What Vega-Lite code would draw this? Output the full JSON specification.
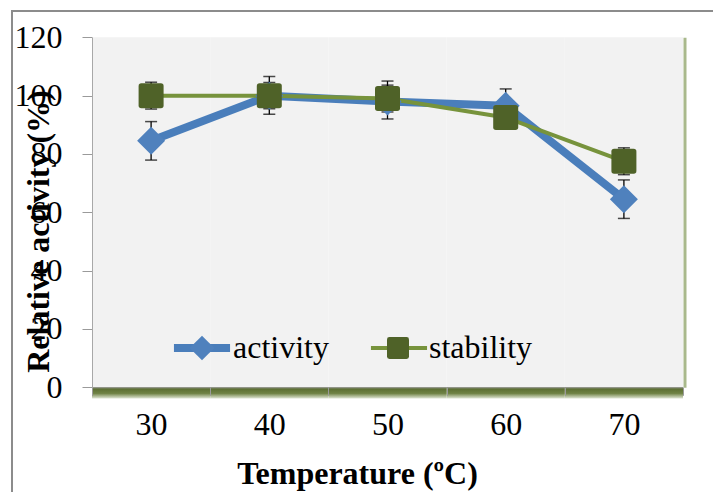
{
  "$schema": "https://vega.github.io/schema/vega-lite/v6.json",
  "width": 701,
  "height": 481,
  "autosize": {"type": "none"},
  "padding": {"left": 12, "top": 11, "right": 1, "bottom": 1},
  "background": "white",
  "config": {
    "font": "Liberation Serif",
    "view": {"stroke": "#8C8C8C", "strokeWidth": 2, "strokeDash": [701, 1182, 481]},
    "axis": {"grid": false, "labelFont": "Liberation Serif", "titleFont": "Liberation Serif", "labelColor": "black", "titleColor": "black"},
    "legend": {"labelFont": "Liberation Serif", "labelColor": "black"}
  },
  "data": {
    "values": [
      {"temp": 30, "series": "activity", "value": 84.5, "lo": 77.9, "hi": 91.1},
      {"temp": 40, "series": "activity", "value": 100, "lo": 93.6, "hi": 106.6},
      {"temp": 50, "series": "activity", "value": 98, "lo": 92, "hi": 105},
      {"temp": 60, "series": "activity", "value": 96.5, "lo": 90.5, "hi": 102.3},
      {"temp": 70, "series": "activity", "value": 64.5, "lo": 57.9, "hi": 71.1},
      {"temp": 30, "series": "stability", "value": 100, "lo": 95.4, "hi": 104.6},
      {"temp": 40, "series": "stability", "value": 100, "lo": 95.5, "hi": 104.5},
      {"temp": 50, "series": "stability", "value": 99, "lo": 94.4, "hi": 103.6},
      {"temp": 60, "series": "stability", "value": 92.5, "lo": 89, "hi": 96},
      {"temp": 70, "series": "stability", "value": 77.5, "lo": 72.9, "hi": 82.1}
    ]
  },
  "encoding": {
    "x": {
      "field": "temp",
      "type": "ordinal",
      "scale": {"type": "band", "range": [80, 671], "paddingInner": 0, "paddingOuter": 0},
      "axis": {
        "title": "Temperature (ºC)",
        "orient": "bottom",
        "offset": -104.7,
        "tickBand": "extent",
        "tickSize": 8,
        "tickColor": "#9A9A9A",
        "domainColor": "#9A9A9A",
        "domainWidth": 1,
        "labelFontSize": 32,
        "labelAngle": 0,
        "labelBaseline": "alphabetic",
        "labelPadding": 38.7,
        "titleFontSize": 32,
        "titleFontWeight": "bold",
        "titleX": 345,
        "titleY": 95.7,
        "titleAlign": "center",
        "titleBaseline": "alphabetic",
        "zindex": 1
      }
    }
  },
  "layer": [
    {
      "transform": [{"filter": "datum.series == 'activity'"}],
      "mark": {"type": "rect", "fill": "#F2F2F2"},
      "encoding": {
        "y": {
          "datum": 120,
          "type": "quantitative",
          "scale": {"domain": [0, 120], "range": [376.3, 26.3], "nice": false, "zero": false},
          "axis": {
            "title": "Relative activity (%)",
            "orient": "left",
            "offset": -80,
            "values": [0, 20, 40, 60, 80, 100, 120],
            "tickSize": 10,
            "tickColor": "#9A9A9A",
            "domainColor": "#A8A8A8",
            "labelFontSize": 32,
            "labelPadding": 20,
            "labelBaseline": "middle",
            "titleFontSize": 32,
            "titleFontWeight": "bold",
            "titleAngle": -90,
            "titleX": -43.5,
            "titleY": 220,
            "titleAlign": "center",
            "titleBaseline": "alphabetic",
            "zindex": 1
          }
        },
        "y2": {"datum": 0}
      }
    },
    {
      "transform": [{"filter": "datum.series == 'activity'"}],
      "mark": {
        "type": "rect",
        "fill": {
          "gradient": "linear", "x1": 0, "y1": 0, "x2": 0, "y2": 1,
          "stops": [
            {"offset": 0, "color": "#55682C"},
            {"offset": 0.55, "color": "#6F8245"},
            {"offset": 1, "color": "#DDE3D2"}
          ]
        }
      },
      "encoding": {
        "y": {
          "datum": 0,
          "type": "quantitative",
          "axis": {
            "orient": "right",
            "offset": -28.5,
            "title": null,
            "ticks": false,
            "labels": false,
            "domainColor": "#A9B98C",
            "domainWidth": 3
          }
        },
        "y2": {"datum": -3.8}
      }
    },
    {
      "mark": {"type": "line", "strokeJoin": "round", "strokeCap": "round"},
      "encoding": {
        "y": {"field": "value", "type": "quantitative", "axis": null},
        "stroke": {
          "field": "series",
          "type": "nominal",
          "scale": {"range": ["#4A7EBB", "#77933C"]},
          "legend": {
            "orient": "none", "legendX": 174, "legendY": 321, "direction": "horizontal", "columns": 2,
            "title": null, "padding": 0, "symbolType": "M-2.55,0L2.55,0", "symbolSize": 484,
            "labelFontSize": 32, "labelOpacity": 0, "labelOffset": 15, "columnPadding": 33, "zindex": 1
          }
        },
        "strokeWidth": {
          "field": "series",
          "type": "nominal",
          "scale": {"range": [8, 4]},
          "legend": {
            "orient": "none", "legendX": 174, "legendY": 321, "direction": "horizontal", "columns": 2,
            "title": null, "padding": 0, "symbolType": "M-2.55,0L2.55,0", "symbolSize": 484,
            "labelFontSize": 32, "labelOpacity": 0, "labelOffset": 15, "columnPadding": 33, "zindex": 1
          }
        }
      }
    },
    {
      "mark": {
        "type": "errorbar",
        "color": "black",
        "rule": {"strokeWidth": 1.3, "color": "black"},
        "ticks": {"size": 12, "thickness": 1.5, "color": "black"}
      },
      "encoding": {
        "y": {"field": "lo", "type": "quantitative", "axis": null},
        "y2": {"field": "hi"}
      }
    },
    {
      "mark": {"type": "point", "filled": true, "opacity": 1, "size": 625, "strokeWidth": 0},
      "encoding": {
        "y": {"field": "value", "type": "quantitative", "axis": null},
        "fill": {
          "field": "series",
          "type": "nominal",
          "scale": {"domain": ["activity", "stability"], "range": ["#4F81BD", "#4F6228"]},
          "legend": {
            "orient": "none", "legendX": 174, "legendY": 321, "direction": "horizontal", "columns": 2,
            "title": null, "padding": 0, "symbolSize": 484, "symbolStrokeWidth": 0,
            "labelFontSize": 32, "labelOffset": 15, "columnPadding": 53, "zindex": 2
          }
        },
        "shape": {
          "field": "series",
          "type": "nominal",
          "scale": {
            "domain": ["activity", "stability"],
            "range": [
              "M0,-1.12L1.12,0L0,1.12L-1.12,0Z",
              "M-0.78,-1L0.78,-1Q1,-1 1,-0.78L1,0.78Q1,1 0.78,1L-0.78,1Q-1,1 -1,0.78L-1,-0.78Q-1,-1 -0.78,-1Z"
            ]
          },
          "legend": {
            "orient": "none", "legendX": 174, "legendY": 321, "direction": "horizontal", "columns": 2,
            "title": null, "padding": 0, "symbolSize": 484, "symbolStrokeWidth": 0,
            "labelFontSize": 32, "labelOffset": 15, "columnPadding": 53, "zindex": 2
          }
        }
      }
    }
  ],
  "resolve": {"axis": {"y": "independent"}}
}
